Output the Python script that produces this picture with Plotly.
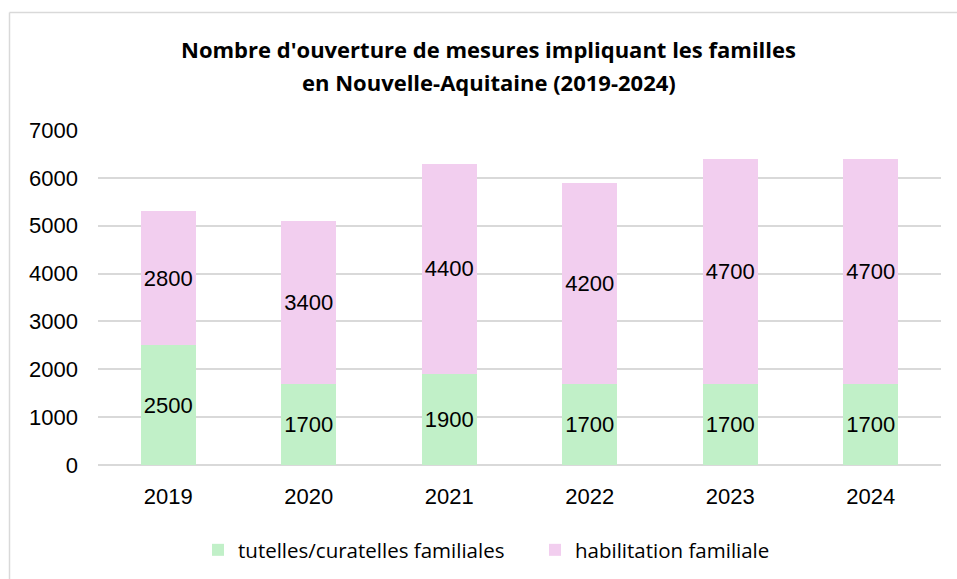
import plotly.graph_objects as go

years = ["2019", "2020", "2021", "2022", "2023", "2024"]
tutelles = [2500, 1700, 1900, 1700, 1700, 1700]
habilitation = [2800, 3400, 4400, 4200, 4700, 4700]
series_names = ["tutelles/curatelles familiales", "habilitation familiale"]
title_lines = ["Nombre d'ouverture de mesures impliquant les familles",
               "en Nouvelle-Aquitaine (2019-2024)"]
y_ticks = [0, 1000, 2000, 3000, 4000, 5000, 6000, 7000]

W, H = 957, 579
L, R, T, B = 98, 941, 130, 465  # plot area in pixels
pw, ph = R - L, B - T

def px(x):
    return (x - L) / pw

def py(y):
    return (B - y) / ph

num_font = dict(family="Liberation Sans, Arial, sans-serif", size=22, color="#000000")
txt_font = "Open Sans, sans-serif"
border = dict(color="#D9D9D9", width=1.5)

fig = go.Figure()
fig.add_trace(go.Bar(x=years, y=tutelles, name=series_names[0],
                     marker=dict(color="#C1F0C8", line=dict(width=0)),
                     text=[str(v) for v in tutelles], textposition="inside",
                     insidetextanchor="middle", textangle=0, constraintext="none",
                     textfont=num_font, hoverinfo="skip"))
fig.add_trace(go.Bar(x=years, y=habilitation, name=series_names[1],
                     marker=dict(color="#F2CEEF", line=dict(width=0)),
                     text=[str(v) for v in habilitation], textposition="inside",
                     insidetextanchor="middle", textangle=0, constraintext="none",
                     textfont=num_font, hoverinfo="skip"))

fig.update_layout(
    width=W, height=H,
    margin=dict(l=L, r=W - R, t=T, b=H - B, pad=0, autoexpand=False),
    barmode="stack", bargap=0.61,
    plot_bgcolor="white", paper_bgcolor="white",
    showlegend=True,
    legend=dict(orientation="h", xref="container", yref="container",
                x=198 / W, y=(H - 550) / H, xanchor="left", yanchor="middle",
                entrywidth=292, borderwidth=0,
                font=dict(family=txt_font, size=20.5, color="#000000"),
                traceorder="normal", itemclick=False, itemdoubleclick=False),
    xaxis=dict(showgrid=False, showline=False, zeroline=False, ticks="",
               tickfont=num_font, ticklabelstandoff=16, fixedrange=True),
    yaxis=dict(range=[0, 7000], tickvals=y_ticks, showgrid=True, gridcolor="#D9D9D9",
               gridwidth=1.5, zeroline=True, zerolinecolor="#D9D9D9", zerolinewidth=1.5,
               showline=False, ticks="", tickfont=num_font, ticklabelstandoff=19,
               fixedrange=True),
    shapes=[
        dict(type="line", xref="paper", yref="paper",
             x0=px(9.5), x1=px(W + 10), y0=py(12.5), y1=py(12.5),
             line=border, layer="below"),
        dict(type="line", xref="paper", yref="paper",
             x0=px(9.5), x1=px(9.5), y0=py(12.5), y1=py(H + 10),
             line=border, layer="below"),
    ],
    annotations=[
        dict(text="<b>%s</b>" % title_lines[0], xref="paper", yref="paper",
             x=px(488.5), y=py(49), xanchor="center", yanchor="middle", showarrow=False,
             font=dict(family=txt_font, size=22, color="#000000")),
        dict(text="<b>%s</b>" % title_lines[1], xref="paper", yref="paper",
             x=px(488.5), y=py(82), xanchor="center", yanchor="middle", showarrow=False,
             font=dict(family=txt_font, size=22, color="#000000")),
    ],
)

page_js = ("document.documentElement.style.margin='0';document.body.style.margin='0';"
           "document.documentElement.style.overflow='hidden';document.body.style.overflow='hidden';")
fig.write_html("out.html", post_script=page_js, config={"displayModeBar": False})
